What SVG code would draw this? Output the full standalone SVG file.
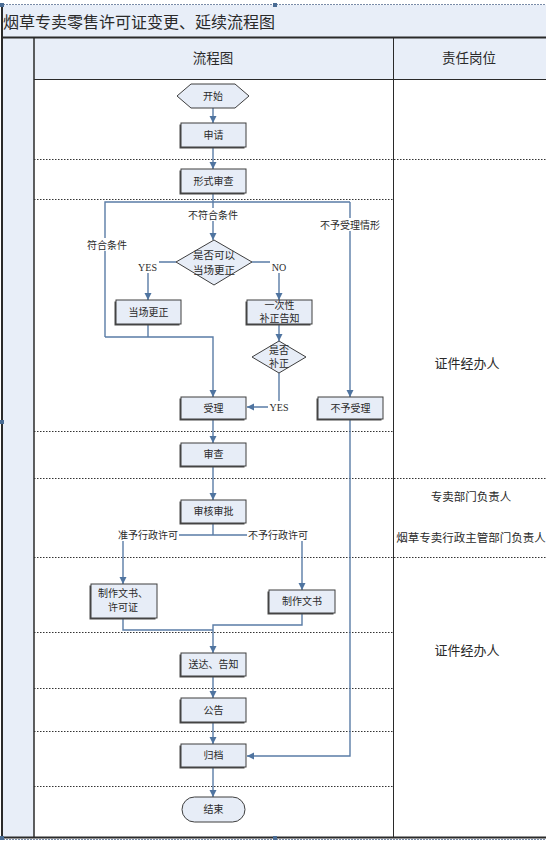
<svg xmlns="http://www.w3.org/2000/svg" width="546" height="841" viewBox="0 0 546 841">
<defs>
<marker id="ah" markerUnits="userSpaceOnUse" markerWidth="8" markerHeight="8" refX="7" refY="3.5" orient="auto">
<path d="M0,0 L7,3.5 L0,7 z" fill="#4f74a0"/>
</marker>
<style>
text{font-family:"Liberation Serif","Noto Sans CJK SC",serif;fill:#2a2a2a}
.bt{font-size:10px;text-anchor:middle}
.lb{font-size:10px;text-anchor:middle}
.box{fill:#e7edf7;stroke:#3e3e3e;stroke-width:1}
.sh{fill:#4a4a4a}
.dot{stroke:#333;stroke-width:1;stroke-dasharray:1.5 1.5;fill:none}
.frame{stroke:#2a2a2a;fill:none}
.cn{stroke:#5a7ca6;stroke-width:1.4;fill:none}
.ar{marker-end:url(#ah)}
.wb{fill:#fff}
.rl{font-size:12px;text-anchor:middle}
.hd{fill:#4a6c94}
</style>
</defs>
<rect x="0" y="0" width="546" height="841" fill="#fff"/>
<!-- frame / table -->
<g id="table">
<rect x="2" y="5" width="544" height="33" fill="#e8eef8"/>
<rect x="2" y="38" width="32" height="800" fill="#e8eef8"/>
<rect x="34" y="38" width="512" height="42" fill="#e8eef8"/>
<line x1="0" y1="4.5" x2="546" y2="4.5" stroke="#7a8ca8" stroke-width="1" stroke-dasharray="2 1"/>
<line x1="2" y1="5" x2="2" y2="838" class="frame" stroke-width="2"/>
<line x1="2" y1="37.5" x2="546" y2="37.5" class="frame" stroke-width="2"/>
<line x1="34" y1="79.5" x2="546" y2="79.5" class="frame" stroke-width="1"/>
<line x1="34" y1="37" x2="34" y2="838" class="frame" stroke-width="1.5"/>
<line x1="393.5" y1="37" x2="393.5" y2="838" class="frame" stroke-width="1"/>
<line x1="2" y1="837.5" x2="546" y2="837.5" class="frame" stroke-width="2"/>
<line x1="0" y1="839.5" x2="546" y2="839.5" stroke="#7a8ca8" stroke-width="1" stroke-dasharray="2 1"/>
<rect class="hd" x="0" y="3" width="4" height="4"/>
<rect class="hd" x="273" y="3" width="4" height="4"/>
<rect class="hd" x="0" y="420" width="4" height="4"/>
<rect class="hd" x="273" y="836" width="4" height="4"/>
<rect class="hd" x="0" y="836" width="4" height="4"/>
<text x="3" y="28" style="font-size:16px">烟草专卖零售许可证变更、延续流程图</text>
<text x="213" y="63" style="font-size:13.5px;text-anchor:middle">流程图</text>
<text x="469" y="63" style="font-size:13.5px;text-anchor:middle">责任岗位</text>
<line class="dot" x1="34" y1="159.5" x2="546" y2="159.5"/>
<line class="dot" x1="34" y1="199.5" x2="393" y2="199.5"/>
<line class="dot" x1="34" y1="431.5" x2="393" y2="431.5"/>
<line class="dot" x1="34" y1="478.5" x2="546" y2="478.5"/>
<line class="dot" x1="34" y1="557.5" x2="546" y2="557.5"/>
<line class="dot" x1="34" y1="632.5" x2="393" y2="632.5"/>
<line class="dot" x1="34" y1="688.5" x2="393" y2="688.5"/>
<line class="dot" x1="34" y1="731.5" x2="393" y2="731.5"/>
<line class="dot" x1="34" y1="786.5" x2="393" y2="786.5"/>
<text class="rl" x="467" y="368" style="font-size:13px">证件经办人</text>
<text class="rl" x="471" y="501" style="font-size:11.5px">专卖部门负责人</text>
<text class="rl" x="471" y="542" style="font-size:11.5px">烟草专卖行政主管部门负责人</text>
<text class="rl" x="467" y="655" style="font-size:13px">证件经办人</text>
</g>
<!-- connectors -->
<g id="connectors">
<path class="cn ar" d="M213,108 V123"/>
<path class="cn ar" d="M213,147 V169"/>
<path class="cn" d="M105,337 V202 H350"/>
<path class="cn ar" d="M213,193 V240"/>
<path class="cn ar" d="M350,202 V397"/>
<path class="cn ar" d="M176,262 H148 V300"/>
<path class="cn ar" d="M252,262 H279 V300"/>
<path class="cn" d="M148,324 V337"/>
<path class="cn ar" d="M105,337 H213 V397"/>
<path class="cn ar" d="M279,324 V341"/>
<path class="cn ar" d="M279,373 V407 H247"/>
<path class="cn ar" d="M213,419 V443"/>
<path class="cn ar" d="M213,466 V500"/>
<path class="cn" d="M213,523 V535 M123,535 H302"/>
<path class="cn ar" d="M123,535 V584"/>
<path class="cn ar" d="M302,535 V590"/>
<path class="cn" d="M123,618 V630 H213"/>
<path class="cn ar" d="M302,613 V625 H213 V653"/>
<path class="cn ar" d="M213,676 V698"/>
<path class="cn ar" d="M213,722 V744"/>
<path class="cn ar" d="M350,419 V756 H247"/>
<path class="cn ar" d="M213,767 V797"/>
<!-- labels -->
<rect class="wb" x="186" y="208" width="55" height="13"/>
<text class="lb" x="213" y="218.5">不符合条件</text>
<rect class="wb" x="86" y="238" width="42" height="13"/>
<text class="lb" x="107" y="248.5">符合条件</text>
<rect class="wb" x="318" y="218" width="64" height="13"/>
<text class="lb" x="350" y="228.5">不予受理情形</text>
<rect class="wb" x="136" y="261" width="23" height="12"/>
<text class="lb" x="147.5" y="271">YES</text>
<rect class="wb" x="270" y="261" width="18" height="12"/>
<text class="lb" x="279" y="271">NO</text>
<rect class="wb" x="268" y="401" width="22" height="12"/>
<text class="lb" x="279" y="411">YES</text>
<rect class="wb" x="117" y="529" width="62" height="12"/>
<text class="lb" x="148" y="539">准予行政许可</text>
<rect class="wb" x="247" y="529" width="62" height="12"/>
<text class="lb" x="278" y="539">不予行政许可</text>
</g>
<!-- nodes -->
<g id="start">
<polygon points="177,96 191,84 235,84 249,96 235,108 191,108" fill="#e7edf7" stroke="#3e3e3e" stroke-width="1"/>
<text class="bt" x="213" y="99.5">开始</text>
</g>
<g id="apply">
<rect class="sh" x="179.5" y="124.5" width="65" height="24"/>
<rect class="box" x="181" y="123" width="65" height="24"/>
<text class="bt" x="213.5" y="138.5">申请</text>
</g>
<g id="formal">
<rect class="sh" x="179.5" y="170.5" width="65" height="24"/>
<rect class="box" x="181" y="169" width="65" height="24"/>
<text class="bt" x="213.5" y="184.5">形式审查</text>
</g>
<g id="dec1">
<polygon points="176,262 214,240 252,262 214,285" fill="#e7edf7" stroke="#3e3e3e" stroke-width="1"/>
<text class="bt" x="214" y="258.5" style="font-size:10.5px">是否可以</text>
<text class="bt" x="214" y="274" style="font-size:10.5px">当场更正</text>
</g>
<g id="correct">
<rect class="sh" x="114.5" y="301.5" width="65" height="24"/>
<rect class="box" x="116" y="300" width="65" height="24"/>
<text class="bt" x="148.5" y="315.5">当场更正</text>
</g>
<g id="notify">
<rect class="sh" x="245.5" y="301.5" width="65" height="24"/>
<rect class="box" x="247" y="300" width="65" height="24"/>
<text class="bt" x="279.5" y="308.5">一次性</text>
<text class="bt" x="279.5" y="321.5">补正告知</text>
</g>
<g id="dec2">
<polygon points="252,357 279,341 306,357 279,373" fill="#e7edf7" stroke="#3e3e3e" stroke-width="1"/>
<text class="bt" x="279" y="354">是否</text>
<text class="bt" x="279" y="367">补正</text>
</g>
<g id="accept">
<rect class="sh" x="179.5" y="398.5" width="65" height="22"/>
<rect class="box" x="181" y="397" width="65" height="22"/>
<text class="bt" x="213.5" y="411.5">受理</text>
</g>
<g id="reject">
<rect class="sh" x="316.5" y="398.5" width="65" height="22"/>
<rect class="box" x="318" y="397" width="65" height="22"/>
<text class="bt" x="350.5" y="411.5">不予受理</text>
</g>
<g id="review">
<rect class="sh" x="179.5" y="444.5" width="65" height="23"/>
<rect class="box" x="181" y="443" width="65" height="23"/>
<text class="bt" x="213.5" y="458">审查</text>
</g>
<g id="approve">
<rect class="sh" x="179.5" y="501.5" width="65" height="23"/>
<rect class="box" x="181" y="500" width="65" height="23"/>
<text class="bt" x="213.5" y="515">审核审批</text>
</g>
<g id="doc-license">
<rect class="sh" x="89.5" y="585.5" width="66" height="34"/>
<rect class="box" x="91" y="584" width="66" height="34"/>
<text class="bt" x="123" y="597">制作文书、</text>
<text class="bt" x="123" y="611">许可证</text>
</g>
<g id="doc">
<rect class="sh" x="267.5" y="591.5" width="66" height="23"/>
<rect class="box" x="269" y="590" width="66" height="23"/>
<text class="bt" x="302" y="605">制作文书</text>
</g>
<g id="deliver">
<rect class="sh" x="179.5" y="654.5" width="65" height="23"/>
<rect class="box" x="181" y="653" width="65" height="23"/>
<text class="bt" x="213.5" y="668">送达、告知</text>
</g>
<g id="announce">
<rect class="sh" x="179.5" y="699.5" width="65" height="24"/>
<rect class="box" x="181" y="698" width="65" height="24"/>
<text class="bt" x="213.5" y="713.5">公告</text>
</g>
<g id="archive">
<rect class="sh" x="179.5" y="745.5" width="65" height="23"/>
<rect class="box" x="181" y="744" width="65" height="23"/>
<text class="bt" x="213.5" y="759">归档</text>
</g>
<g id="end">
<rect x="182" y="797" width="63" height="25" rx="12.5" ry="12.5" fill="#e7edf7" stroke="#3e3e3e" stroke-width="1"/>
<text class="bt" x="213.5" y="813">结束</text>
</g>
</svg>
